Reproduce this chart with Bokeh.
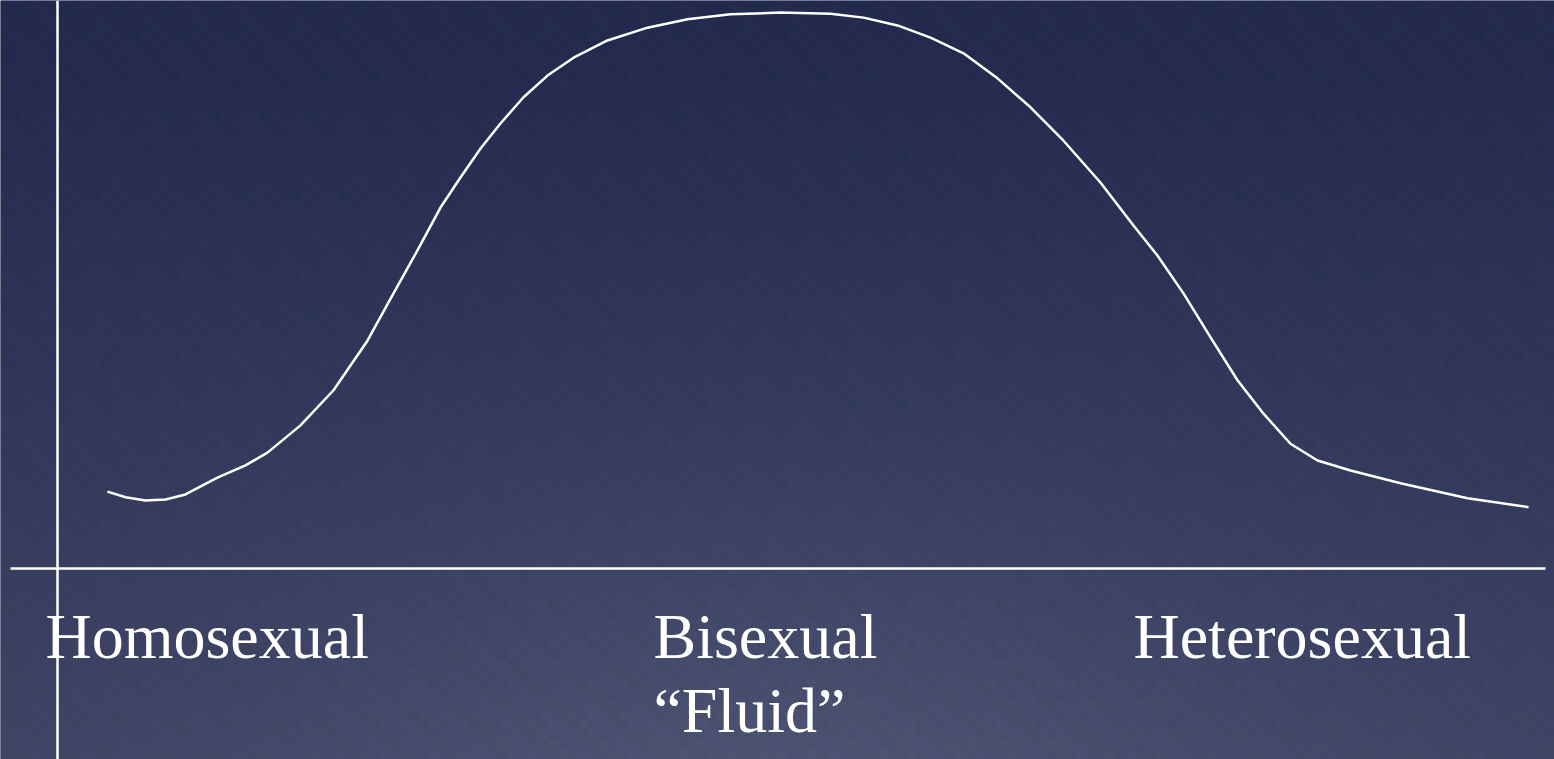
import numpy as np
from bokeh.plotting import figure
from bokeh.models import Range1d, Label, Span
from bokeh.core.properties import value
from bokeh.embed import file_html
from bokeh.resources import INLINE

# ---- data ----
curve_x = [3.36, 4.57, 5.91, 7.26, 8.60, 10.75, 12.63, 14.11, 16.33, 18.55, 20.83,
           22.58, 24.19, 25.74, 27.08, 28.43, 29.77, 31.32, 32.93, 34.68, 36.96,
           39.65, 42.34, 45.23, 48.59, 51.95, 54.17, 56.45, 58.67, 60.89, 63.17,
           65.39, 67.61, 70.09, 72.31, 73.92, 75.67, 77.49, 79.30, 81.05, 82.86,
           84.68, 86.90, 90.26, 94.76, 98.86]
curve_y = [13.8, 12.8, 12.2, 12.4, 13.3, 16.3, 18.5, 20.8, 25.7, 32.0, 40.9,
           49.4, 57.1, 64.8, 70.2, 75.4, 79.9, 84.6, 88.5, 91.7, 94.8,
           97.1, 98.6, 99.5, 99.8, 99.6, 98.9, 97.5, 95.3, 92.5, 88.0,
           82.8, 76.8, 69.3, 61.6, 56.2, 49.4, 41.5, 33.8, 27.8, 22.4,
           19.4, 17.6, 15.3, 12.6, 11.0]

categories = ["Homosexual", "Bisexual", "Heterosexual"]
category_x = [-0.81, 40.05, 72.31]
sub_label = "\u201cFluid\u201d"

# ---- layout: mapping of data units to picture pixels ----
W, H = 1554, 759
OFF = 0
AXIS_PX_X, PX_PER_X = 57.0, 14.88
AXIS_PX_Y, PX_PER_Y = 568.0, 5.57

def px_to_x(px):
    return (px - AXIS_PX_X) / PX_PER_X

def py_to_y(py):
    return (AXIS_PX_Y - py) / PX_PER_Y

x0, x1 = px_to_x(OFF), px_to_x(OFF + W)
y0, y1 = py_to_y(OFF + H), py_to_y(OFF)

p = figure(width=W, height=H, output_backend="svg", toolbar_location=None,
           x_range=Range1d(x0, x1), y_range=Range1d(y0, y1),
           min_border=0, min_border_left=0, min_border_right=0,
           min_border_top=0, min_border_bottom=0)
p.axis.visible = False
p.grid.visible = False
p.outline_line_color = None
p.background_fill_color = "#2c3358"
p.border_fill_color = "#2c3358"

# background gradient (vertical, with a lighter glow at the bottom centre)
rows, cols = 76, 156
t = np.linspace(0, 1, rows)[:, None]          # 0 = top, 1 = bottom
u = np.linspace(0, 1, cols)[None, :]
top = np.array([35, 42, 78], dtype=float)
bot = np.array([62, 67, 100], dtype=float)
glow = np.exp(-((u - 0.5) / 0.35) ** 2) * (t ** 2)
rgb = top[None, None, :] + (bot - top)[None, None, :] * (t[..., None] ** 1.1)
rgb = rgb + np.array([14, 16, 14])[None, None, :] * glow[..., None]
tex = ((np.arange(rows)[:, None] * 7 + np.arange(cols)[None, :] * 13) % 5 - 2) * 1.2
rgb = rgb + tex[..., None] * np.array([0.6, 0.3, 0.9])[None, None, :]
rgb = np.clip(rgb, 0, 255).astype(np.uint32)
img = (255 << 24) | (rgb[..., 2] << 16) | (rgb[..., 1] << 8) | rgb[..., 0]
img = img[::-1, :].astype(np.uint32)
p.image_rgba(image=[img], x=x0, y=y0, dw=x1 - x0, dh=y1 - y0)

# axes lines
p.add_layout(Span(location=0, dimension="height", line_color="white", line_width=2.5))
p.segment(x0=[px_to_x(10)], y0=[0], x1=[px_to_x(1545)], y1=[0],
          line_color="white", line_width=2.5)

# curve
p.line(curve_x, curve_y, line_color="white", line_width=2.5, line_join="round")

# labels
base_y = py_to_y(636)
p.text(x=category_x, y=[base_y] * 3, text=categories,
       text_font=value("Liberation Serif"), text_font_size="64px",
       text_color="white", text_baseline="alphabetic", text_align="left")
p.add_layout(Label(x=category_x[1], y=py_to_y(710), text=sub_label,
                   text_font="Liberation Serif", text_font_size="64px",
                   text_color="white", text_baseline="alphabetic", text_align="left"))

open("out.html", "w").write(file_html(p, INLINE))
